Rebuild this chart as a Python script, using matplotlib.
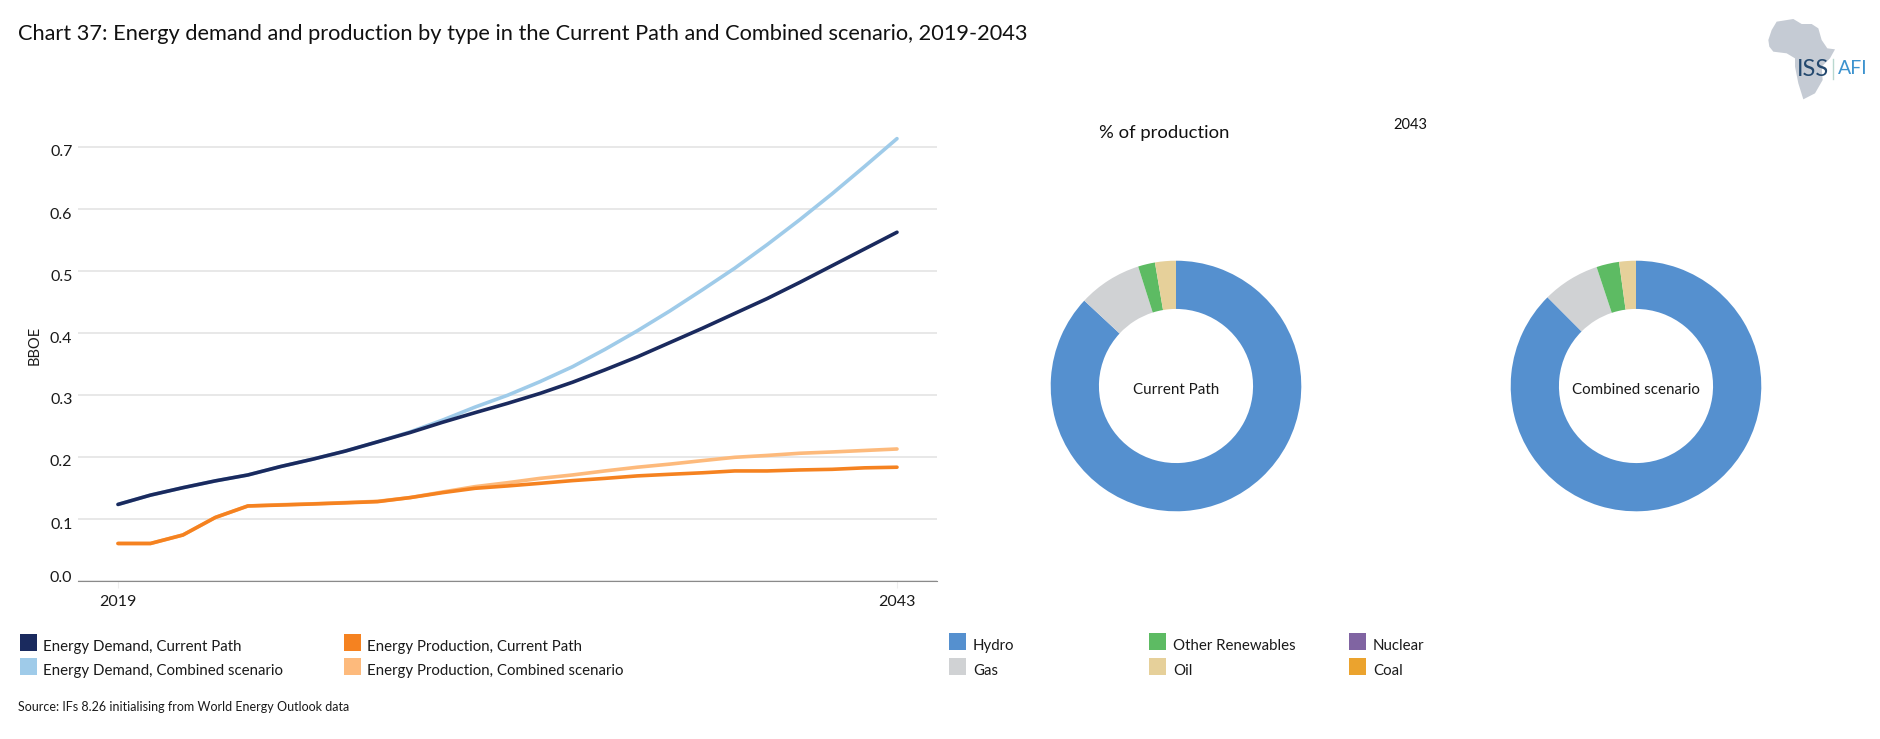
import numpy as np
import matplotlib
matplotlib.use("Agg")
import matplotlib.pyplot as plt
from matplotlib.patches import Rectangle, Polygon
from matplotlib.transforms import ScaledTranslation

plt.rcParams['font.family'] = ['Lato', 'DejaVu Sans']

W, H = 1880, 739

years = list(range(2019, 2044))
demand_current = [0.124, 0.139, 0.151, 0.162, 0.1715, 0.185, 0.197, 0.21, 0.225, 0.24, 0.2565, 0.272, 0.287,
                  0.303, 0.321, 0.341, 0.362, 0.385, 0.408, 0.432, 0.456, 0.482, 0.509, 0.536, 0.563]
demand_combined = [0.124, 0.139, 0.151, 0.162, 0.1715, 0.185, 0.197, 0.21, 0.225, 0.241, 0.26, 0.281, 0.30,
                   0.322, 0.346, 0.374, 0.404, 0.436, 0.47, 0.505, 0.543, 0.583, 0.625, 0.669, 0.714]
production_current = [0.061, 0.061, 0.0747, 0.103, 0.1215, 0.123, 0.1247, 0.1265, 0.1285, 0.135, 0.143, 0.15, 0.1538,
                      0.158, 0.1624, 0.166, 0.17, 0.1726, 0.175, 0.178, 0.178, 0.1796, 0.1806, 0.183, 0.184]
production_combined = [0.061, 0.061, 0.0747, 0.103, 0.1215, 0.1235, 0.125, 0.127, 0.129, 0.135, 0.144, 0.1527, 0.159,
                       0.166, 0.1715, 0.178, 0.184, 0.189, 0.1946, 0.20, 0.203, 0.2065, 0.2086, 0.211, 0.2134]

y_ticks = [0.0, 0.1, 0.2, 0.3, 0.4, 0.5, 0.6, 0.7]
# the labels do not sit quite on their gridlines in the original (px)
y_label_shift = [5, -4, -3, -3, -4, -4, -4, -3]
x_ticks = [2019, 2043]

energy_types = ["Hydro", "Gas", "Other Renewables", "Oil", "Nuclear", "Coal"]
share_current = [86.93, 8.19, 2.19, 2.69, 0, 0]
share_combined = [87.52, 7.39, 2.93, 2.16, 0, 0]
type_colors = ["#5590cf", "#d0d2d4", "#5dbb63", "#e6d09a", "#8064a2", "#eba32e"]


def px_axes(fig, left, top, right, bottom):
    return fig.add_axes([left / W, 1 - bottom / H, (right - left) / W, (bottom - top) / H])


fig = plt.figure(figsize=(W / 100, H / 100), dpi=100, facecolor="white")

# overlay in pixel coords for title, legends, logo
bg = fig.add_axes([0, 0, 1, 1])
bg.set_xlim(0, W)
bg.set_ylim(H, 0)
bg.axis("off")

# line chart
ax = px_axes(fig, 78, 110, 937, 581.3)
ax.set_facecolor("none")
ax.plot(years, demand_combined, color="#9fcbe9", lw=2.6, solid_capstyle="round")
ax.plot(years, demand_current, color="#1a2a5e", lw=2.6, solid_capstyle="round")
ax.plot(years, production_combined, color="#fdba7c", lw=2.6, solid_capstyle="round")
ax.plot(years, production_current, color="#f58220", lw=2.6, solid_capstyle="round")
ax.set_xlim(2019 - 40 / 32.45, 2043 + 40 / 32.45)
ax.set_ylim(0, 471.3 / 620)
ax.set_yticks(y_ticks)
ax.set_yticklabels([f"{v:.1f}" for v in y_ticks], fontsize=11.5, color="#1a1a1a")
ax.set_xticks(x_ticks)
ax.set_xticklabels([str(v) for v in x_ticks], fontsize=11.5, color="#1a1a1a")
ax.grid(axis="y", color="#e4e4e4", lw=1.2)
ax.set_axisbelow(True)
for s in ["top", "right", "left"]:
    ax.spines[s].set_visible(False)
ax.spines["bottom"].set_color("#8a8a8a")
ax.tick_params(axis="y", length=0, pad=4)
ax.tick_params(axis="x", length=5, color="#eeeeee", pad=5)
for lab, dy in zip(ax.get_yticklabels(), y_label_shift):
    lab.set_transform(lab.get_transform() + ScaledTranslation(0, dy / 100, fig.dpi_scale_trans))
bg.text(35, 345, "BBOE", rotation=90, ha="center", va="center", fontsize=10.5, color="#1a1a1a")

# donuts
for cx, shares, name in [(1176, share_current, "Current Path"), (1636, share_combined, "Combined scenario")]:
    pie_ax = px_axes(fig, cx - 125.3, 386 - 125.3, cx + 125.3, 386 + 125.3)
    pie_ax.pie(shares, colors=type_colors, startangle=90, counterclock=False, radius=1,
               wedgeprops={"width": 0.385, "linewidth": 0})
    pie_ax.set_xlim(-1, 1)
    pie_ax.set_ylim(-1, 1)
    pie_ax.set_aspect("equal")
    pie_ax.text(0, -0.03, name, ha="center", va="center", fontsize=10.9, color="#1a1a1a")

# titles
bg.text(18, 34, "Chart 37: Energy demand and production by type in the Current Path and Combined scenario, 2019-2043",
        fontsize=15.7, va="center", color="#111111")
bg.text(1164, 133, "% of production", ha="center", va="center", fontsize=13.3, color="#111111")
bg.text(1410, 125, "2043", ha="center", va="center", fontsize=10.5, color="#111111")

# legends
line_legend = [(20, 634, "#1a2a5e", "Energy Demand, Current Path"),
               (20, 658, "#9fcbe9", "Energy Demand, Combined scenario"),
               (344, 634, "#f58220", "Energy Production, Current Path"),
               (344, 658, "#fdba7c", "Energy Production, Combined scenario")]
for x, y, c, label in line_legend:
    bg.add_patch(Rectangle((x, y), 17, 17, color=c, lw=0))
    bg.text(x + 23, y + 12.5, label, va="center", fontsize=10.8, color="#1a1a1a")

type_legend = [(949, 633, "Hydro"), (1149, 633, "Other Renewables"), (1349, 633, "Nuclear"),
               (949, 658, "Gas"), (1149, 658, "Oil"), (1349, 658, "Coal")]
for x, y, label in type_legend:
    c = type_colors[energy_types.index(label)]
    bg.add_patch(Rectangle((x, y), 17, 17, color=c, lw=0))
    bg.text(x + 24, y + 13, label, va="center", fontsize=10.8, color="#1a1a1a")

bg.text(18, 707, "Source: IFs 8.26 initialising from World Energy Outlook data", va="center", fontsize=9, color="#1a1a1a")

# logo
africa = [(85, 120), (95, 90), (110, 65), (160, 57), (185, 72), (215, 72), (235, 85), (245, 120), (262, 145),
          (285, 148), (270, 175), (245, 200), (248, 240), (225, 280), (190, 298), (175, 250), (165, 200),
          (165, 175), (140, 160), (100, 155), (88, 140)]
bg.add_patch(Polygon([(1740 + x / 3, y / 3) for x, y in africa], closed=True, color="#c5cbd4", lw=0))
bg.text(1797, 69, "ISS", ha="left", va="center", fontsize=17, color="#24496f")
bg.plot([1833, 1833], [59, 79], color="#b9d8d0", lw=1)
bg.text(1838, 69, "AFI", ha="left", va="center", fontsize=14, color="#3d93cf")

fig.savefig("out.png", dpi=100)
